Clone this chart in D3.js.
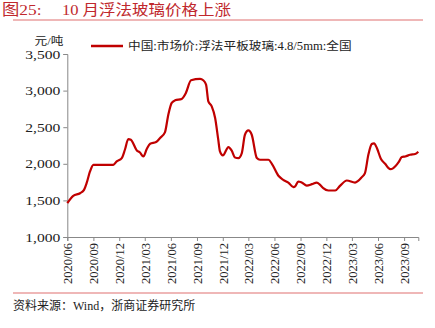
<!DOCTYPE html>
<html><head><meta charset="utf-8">
<script src="https://cdn.jsdelivr.net/npm/d3@7"></script>
<style>
body{margin:0;background:#fff;}
svg text{font-family:"Liberation Serif","Times New Roman","Noto Sans CJK SC",serif;}
</style></head>
<body><svg id="c" width="435" height="328"></svg>
<script>
const dates = ["2020-06-01","2020-06-22","2020-07-16","2020-07-30","2020-08-08","2020-08-20","2020-09-01","2020-11-10","2020-11-22","2020-12-10","2020-12-21","2021-01-02","2021-01-11","2021-02-01","2021-02-12","2021-02-24","2021-03-08","2021-03-20","2021-04-10","2021-04-24","2021-05-11","2021-05-23","2021-06-04","2021-06-16","2021-07-09","2021-07-24","2021-08-11","2021-09-12","2021-09-23","2021-10-03","2021-10-11","2021-10-23","2021-11-04","2021-11-15","2021-11-21","2021-12-01","2021-12-21","2022-01-01","2022-01-13","2022-01-25","2022-02-06","2022-02-17","2022-03-01","2022-03-13","2022-03-31","2022-04-11","2022-05-11","2022-05-23","2022-06-15","2022-07-02","2022-07-20","2022-08-07","2022-08-13","2022-08-24","2022-09-05","2022-09-23","2022-10-11","2022-10-28","2022-11-09","2022-11-20","2022-12-08","2023-01-01","2023-01-18","2023-02-11","2023-03-12","2023-04-05","2023-04-16","2023-04-28","2023-05-10","2023-05-18","2023-05-28","2023-06-11","2023-06-26","2023-07-14","2023-07-25","2023-08-12","2023-08-24","2023-09-05","2023-09-22","2023-10-10","2023-10-21"];
const prices = [1462,1562,1598,1644,1735,1895,1986,1986,2032,2078,2192,2338,2329,2183,2155,2100,2201,2274,2297,2352,2429,2671,2832,2867,2886,2969,3141,3160,3141,3082,2853,2785,2626,2329,2169,2114,2229,2183,2086,2078,2147,2397,2456,2397,2078,2055,2055,2000,1836,1781,1744,1681,1690,1758,1744,1703,1722,1744,1712,1667,1635,1635,1699,1772,1744,1818,1873,2123,2270,2280,2215,2069,2000,1927,1941,2018,2092,2100,2123,2133,2165];
const yTicks = [1000,1500,2000,2500,3000,3500];
const xTickLabels = ["2020/06","2020/09","2020/12","2021/03","2021/06","2021/09","2021/12","2022/03","2022/06","2022/09","2022/12","2023/03","2023/06","2023/09"];
const seriesName = "中国:市场价:浮法平板玻璃:4.8/5mm:全国";
const titleNum = "图25:";
const titleText = "10 月浮法玻璃价格上涨";
const sourceText = "资料来源：Wind，浙商证券研究所";
const unitText = "元/吨";

const parse = d3.timeParse("%Y-%m-%d");
const parseTick = d3.timeParse("%Y/%m");
const data = dates.map((d,i)=>({date:parse(d), v:prices[i]}));
const svg = d3.select("#c");
const L=67.3, R=418.3, T=54, B=237;
const x = d3.scaleTime().domain([parse("2020-06-01"), parse("2023-10-21")]).range([L,R]);
const y = d3.scaleLinear().domain([1000,3500]).range([B,T]);

function stretched(px, py, sx, size, txt, fill, anchor){
  return svg.append("text").attr("transform",`translate(${px},${py}) scale(${sx},1)`)
    .attr("font-size",size).attr("fill",fill).attr("text-anchor",anchor||"start").text(txt);
}

// title
stretched(2,14.5,1.12,15.5,titleNum,"#c0282d");
stretched(62,14.5,1.1,15,titleText,"#c0282d");
svg.append("line").attr("x1",13).attr("x2",423).attr("y1",20).attr("y2",20).attr("stroke","#e07070").attr("stroke-width",1.2);
svg.append("line").attr("x1",13).attr("x2",423).attr("y1",293).attr("y2",293).attr("stroke","#e07070").attr("stroke-width",1.2);
svg.append("text").attr("x",13).attr("y",310).attr("fill","#222").attr("font-size",12).text(sourceText);

// axes
const yAxis = d3.axisLeft(y).tickValues(yTicks).tickSize(4).tickPadding(3).tickFormat(d3.format(","));
const gy = svg.append("g").attr("transform",`translate(${L},0)`).call(yAxis);
gy.selectAll("line,path").attr("stroke","#888");
gy.selectAll("text").attr("font-size",12.5).attr("fill","#222").attr("font-family","Liberation Serif")
  .attr("x",0).attr("transform","translate(-7,0) scale(1.25,1)");

const xAxis = d3.axisBottom(x).tickValues(xTickLabels.map(parseTick)).tickSize(4).tickFormat(d3.timeFormat("%Y/%m"));
const gx = svg.append("g").attr("transform",`translate(0,${B})`).call(xAxis);
gx.selectAll("line,path").attr("stroke","#888");
gx.selectAll("text").attr("font-size",12.5).attr("fill","#222").attr("font-family","Liberation Serif")
  .attr("text-anchor","end").attr("transform","rotate(-90)").attr("x",-6).attr("y",0).attr("dy","0.35em");

stretched(49,45,1.15,11,unitText,"#222","middle");

// legend
svg.append("line").attr("x1",91).attr("x2",123).attr("y1",46).attr("y2",46).attr("stroke","#c00000").attr("stroke-width",2.5);
stretched(128,50,1.1,11.5,seriesName,"#222");

// line
const line = d3.line().x(d=>x(d.date)).y(d=>y(d.v)).curve(d3.curveMonotoneX);
svg.append("path").datum(data).attr("d",line).attr("fill","none").attr("stroke","#c00000").attr("stroke-width",2.2).attr("stroke-linejoin","round");
</script></body></html>
